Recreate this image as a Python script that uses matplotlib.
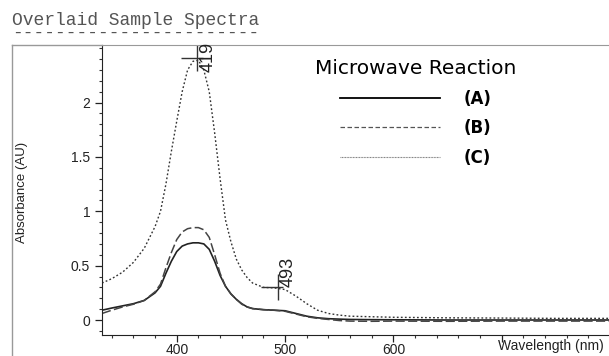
import numpy as np
import matplotlib
matplotlib.use("Agg")
import matplotlib.pyplot as plt
from matplotlib.lines import Line2D
from matplotlib.ticker import MultipleLocator, FixedLocator

plt.rcParams['font.family'] = ['Liberation Sans', 'DejaVu Sans']

# wavelength grid (nm)
wavelength = [331, 340, 350, 360, 370, 380, 385, 390, 395, 400, 405, 410, 415,
              420, 425, 430, 435, 440, 445, 450, 455, 460, 465, 470, 480, 490,
              500, 510, 520, 530, 540, 550, 560, 580, 600, 650, 700, 750, 800]

# (A) solid
abs_a = [0.09, 0.11, 0.13, 0.15, 0.18, 0.25, 0.31, 0.43, 0.54, 0.63, 0.68, 0.70, 0.71,
         0.71, 0.70, 0.65, 0.54, 0.41, 0.31, 0.24, 0.19, 0.15, 0.12, 0.105, 0.095, 0.09,
         0.085, 0.06, 0.035, 0.02, 0.012, 0.008, 0.005, 0.003, 0.002, 0.0, 0.0, 0.0, 0.0]

# (B) dashed
abs_b = [0.06, 0.09, 0.12, 0.145, 0.18, 0.26, 0.33, 0.48, 0.62, 0.74, 0.81, 0.84, 0.85,
         0.85, 0.83, 0.76, 0.60, 0.43, 0.31, 0.24, 0.19, 0.145, 0.12, 0.105, 0.095, 0.09,
         0.08, 0.055, 0.03, 0.015, 0.005, -0.005, -0.01, -0.012, -0.01, -0.012, -0.01,
         -0.01, -0.01]

# (C) dotted
abs_c = [0.34, 0.38, 0.44, 0.53, 0.66, 0.86, 1.0, 1.25, 1.55, 1.83, 2.10, 2.30, 2.38,
         2.39, 2.30, 2.10, 1.72, 1.30, 0.92, 0.72, 0.56, 0.46, 0.39, 0.34, 0.30, 0.295,
         0.28, 0.22, 0.15, 0.09, 0.06, 0.045, 0.035, 0.03, 0.025, 0.02, 0.018, 0.015, 0.015]

# marked peaks
peak_wl = [419, 493]
peak_abs = [2.41, 0.30]

series_labels = ['(A)', '(B)', '(C)']
x_ticks = [400, 500, 600, 700]
x_tick_labels = ['400', '500', '600', '']
y_ticks = [0, 0.5, 1, 1.5, 2]
y_tick_labels = ['0', '0.5', '1', '1.5', '2']

fig = plt.figure(figsize=(6.09, 3.56), dpi=100)
ax = fig.add_axes([102 / 609, 21 / 356, 507 / 609, 290 / 356])

ax.plot(wavelength, abs_a, color='#222222', lw=1.2)
ax.plot(wavelength, abs_b, color='#444444', lw=1.1, dashes=(6, 2.2))
ax.plot(wavelength, abs_c, color='#333333', lw=1.0, dashes=(1.3, 1.6))

ymax = 2.53
ax.set_xlim(331, 799)
ax.set_ylim(-0.138, ymax)

# peak crosses and labels
for wl, a in zip(peak_wl, peak_abs):
    ax.vlines(wl, a - 0.12, a + 0.12, color='#333333', lw=1.0)
    ax.hlines(a, wl - 15, wl + 5, color='#333333', lw=1.0)
    ax.text(wl + 10, min(a, ymax - 0.25), str(wl), rotation=90, ha='center',
            va='bottom', fontsize=13, color='#222222')

ax.set_xticks(x_ticks)
ax.set_xticklabels(x_tick_labels)
ax.xaxis.set_minor_locator(MultipleLocator(20))
ax.yaxis.set_major_locator(FixedLocator(y_ticks))
ax.set_yticklabels(y_tick_labels)
ax.yaxis.set_minor_locator(MultipleLocator(0.1))
ax.tick_params(which='major', direction='out', length=5, width=0.9,
               labelsize=10, colors='#222222')
ax.tick_params(axis='x', which='major', pad=1)
ax.tick_params(which='minor', direction='out', length=2.5, width=0.8, colors='#333333')

ax.spines['right'].set_visible(False)
ax.spines['top'].set_color('#999999')
ax.spines['left'].set_color('#222222')
ax.spines['bottom'].set_color('#222222')

fig.text(22 / 609, 1 - 192 / 356, 'Absorbance (AU)', rotation=90, ha='center',
         va='center', fontsize=9.5, color='#222222')
fig.text(498 / 609, 1 - 346 / 356, 'Wavelength (nm)', ha='left', va='center',
         fontsize=10, color='#222222')

# header
fig.text(12 / 609, 1 - 25 / 356, 'Overlaid Sample Spectra', family='Liberation Mono',
         fontsize=13, color='#555555', va='baseline')
fig.text(12 / 609, 1 - 38 / 356, '-' * 23, family='Liberation Mono',
         fontsize=13, color='#555555', va='baseline')

# outer frame
fig.add_artist(Line2D([12 / 609, 12 / 609], [0, 1 - 45 / 356], color='#999999', lw=1.0))
fig.add_artist(Line2D([12 / 609, 102 / 609], [1 - 45 / 356, 1 - 45 / 356],
                      color='#999999', lw=1.0))

handles = [Line2D([], [], color='black', lw=1.3),
           Line2D([], [], color='#555555', lw=0.9, dashes=(3.6, 2)),
           Line2D([], [], color='#777777', lw=0.8, dashes=(0.8, 0.6))]
leg = ax.legend(handles, series_labels, title='Microwave Reaction', frameon=False,
                loc='upper left', bbox_to_anchor=(315 / 609, 1 - 59 / 356),
                bbox_transform=fig.transFigure, borderaxespad=0, borderpad=0,
                handlelength=6.0, handletextpad=1.4, labelspacing=0.7,
                prop={'family': 'DejaVu Sans', 'weight': 'bold', 'size': 12},
                title_fontproperties={'family': 'DejaVu Sans', 'size': 14.5})

fig.savefig('out.png', dpi=100)
